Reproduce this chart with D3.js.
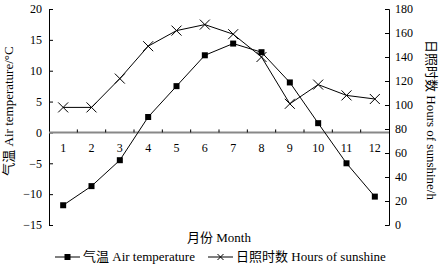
<!DOCTYPE html>
<html>
<head>
<meta charset="utf-8">
<script src="https://cdn.jsdelivr.net/npm/d3@7"></script>
<style>
  body { margin: 0; background: #fff; }
  text { font-family: "Liberation Serif", "Noto Sans CJK SC", serif; fill: #000; }
</style>
</head>
<body>
<svg id="chart" width="441" height="269"></svg>
<script>
const months = [1, 2, 3, 4, 5, 6, 7, 8, 9, 10, 11, 12];
const airTemp = [-11.8, -8.7, -4.5, 2.5, 7.5, 12.5, 14.4, 13.0, 8.1, 1.5, -5.0, -10.4];
const sunshine = [98, 98, 122, 149, 162, 167, 159, 140, 101, 117, 108, 105];
const leftTicks = [-15, -10, -5, 0, 5, 10, 15, 20];
const rightTicks = [0, 20, 40, 60, 80, 100, 120, 140, 160, 180];

const svg = d3.select("#chart");
const plotLeft = 49, plotRight = 389, plotTop = 9, plotBottom = 225;

const x = d3.scaleBand().domain(months).range([plotLeft, plotRight]);
const yL = d3.scaleLinear().domain([-15, 20]).range([plotBottom, plotTop]);
const yR = d3.scaleLinear().domain([0, 180]).range([plotBottom, plotTop]);

// left axis, ticks pointing inward
const gL = svg.append("g").attr("transform", `translate(${plotLeft},0)`)
    .call(d3.axisRight(yL).tickValues(leftTicks).tickSize(4).tickFormat(d => d < 0 ? "\u2212" + Math.abs(d) : d));
gL.selectAll("text").attr("x", -7).attr("text-anchor", "end").style("font-size", "12px");

// right axis, ticks pointing inward
const gR = svg.append("g").attr("transform", `translate(${plotRight},0)`)
    .call(d3.axisLeft(yR).tickValues(rightTicks).tickSize(4));
gR.selectAll("text").attr("x", 6).attr("text-anchor", "start").style("font-size", "12px");

[gL, gR].forEach(g => {
    g.select(".domain").attr("stroke", "#000").attr("stroke-width", 1);
    g.selectAll(".tick line").attr("stroke", "#000");
});

// x axis on the zero line
const y0 = yL(0);
const boundaries = d3.range(1, 12).map(i => plotLeft + i * x.step());
svg.append("line")
    .attr("x1", plotLeft).attr("x2", plotRight).attr("y1", y0).attr("y2", y0)
    .attr("stroke", "#888").attr("stroke-width", 2);
svg.selectAll(".xtick").data(boundaries).enter().append("line")
    .attr("x1", d => d).attr("x2", d => d)
    .attr("y1", y0).attr("y2", y0 - 3)
    .attr("stroke", "#000");
svg.selectAll(".xlabel").data(months).enter().append("text")
    .attr("x", d => x(d) + x.bandwidth() / 2)
    .attr("y", y0 + 20)
    .attr("text-anchor", "middle")
    .style("font-size", "12px")
    .text(d => d);

const cx = (d, i) => x(months[i]) + x.bandwidth() / 2;

// sunshine line
svg.append("path").datum(sunshine)
    .attr("fill", "none").attr("stroke", "#000").attr("stroke-width", 1)
    .attr("d", d3.line().x(cx).y(d => yR(d)));
const cross = (g, px, py, s) => {
    g.append("path")
        .attr("d", `M${px - s},${py - s}L${px + s},${py + s}M${px - s},${py + s}L${px + s},${py - s}`)
        .attr("stroke", "#000").attr("stroke-width", 1);
};
sunshine.forEach((d, i) => cross(svg, cx(d, i), yR(d), 5));

// temperature line
svg.append("path").datum(airTemp)
    .attr("fill", "none").attr("stroke", "#000").attr("stroke-width", 1)
    .attr("d", d3.line().x(cx).y(d => yL(d)));
svg.selectAll(".sq").data(airTemp).enter().append("rect")
    .attr("x", (d, i) => cx(d, i) - 3)
    .attr("y", d => yL(d) - 3)
    .attr("width", 6).attr("height", 6)
    .attr("fill", "#000");

// axis titles
svg.append("text")
    .attr("transform", `translate(13,${(plotTop + plotBottom) / 2 - 6}) rotate(-90)`)
    .attr("text-anchor", "middle")
    .style("font-size", "13px")
    .text("气温 Air temperature/°C");
svg.append("text")
    .attr("transform", `translate(427,${(plotTop + plotBottom) / 2 + 3}) rotate(90)`)
    .attr("text-anchor", "middle")
    .style("font-size", "13px")
    .text("日照时数 Hours of sunshine/h");
svg.append("text")
    .attr("x", 219).attr("y", 242)
    .attr("text-anchor", "middle")
    .style("font-size", "13px")
    .text("月份 Month");

// legend
const ly = 257;
const leg1 = svg.append("g");
leg1.append("line").attr("x1", 55).attr("x2", 80).attr("y1", ly).attr("y2", ly).attr("stroke", "#000");
leg1.append("rect").attr("x", 64.5).attr("y", ly - 3).attr("width", 6).attr("height", 6).attr("fill", "#000");
leg1.append("text").attr("x", 83).attr("y", ly + 4).style("font-size", "13px").text("气温 Air temperature");

const leg2 = svg.append("g");
leg2.append("line").attr("x1", 208).attr("x2", 233).attr("y1", ly).attr("y2", ly).attr("stroke", "#000");
cross(leg2, 220.5, ly, 3);
leg2.append("text").attr("x", 236).attr("y", ly + 4).style("font-size", "13px").text("日照时数 Hours of sunshine");
</script>
</body>
</html>
